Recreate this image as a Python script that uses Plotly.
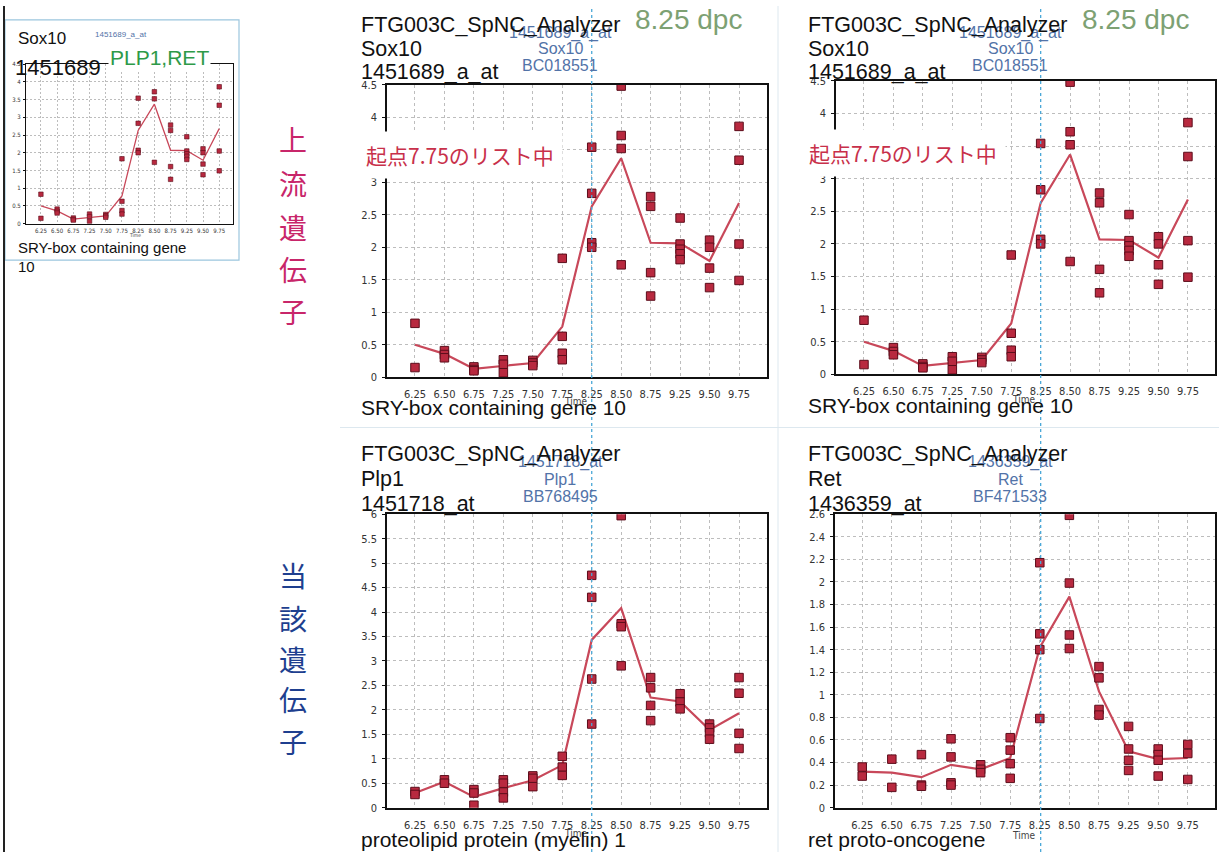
import plotly.graph_objects as go

W, H = 1219, 859


def X(px):
    return px / W


def Y(py):
    return 1 - py / H


# ---------------- data ----------------
cats = ["6.25", "6.50", "6.75", "7.25", "7.50", "7.75",
        "8.25", "8.50", "8.75", "9.25", "9.50", "9.75"]

sox10_points = [
    [0.83, 0.15],
    [0.41, 0.35, 0.30],
    [0.16, 0.12, 0.10],
    [0.27, 0.20, 0.07],
    [0.26, 0.22, 0.18],
    [1.83, 0.63, 0.37, 0.27],
    [3.54, 2.83, 2.07, 2.00],
    [4.48, 3.72, 3.52, 1.73],
    [2.78, 2.63, 1.61, 1.25],
    [2.45, 2.05, 1.97, 1.90, 1.81],
    [2.11, 2.00, 1.68, 1.38],
    [3.86, 3.34, 2.05, 1.49],
]
sox10_mean = [0.50, 0.36, 0.13, 0.18, 0.22, 0.78, 2.63, 3.37, 2.07, 2.06, 1.79, 2.68]

plp1_points = [
    [0.33, 0.27],
    [0.57, 0.50],
    [0.37, 0.30, 0.05],
    [0.57, 0.50, 0.32, 0.20],
    [0.65, 0.60, 0.43],
    [1.05, 0.83, 0.66],
    [4.75, 4.30, 2.63, 1.71],
    [5.97, 3.76, 3.70, 2.90],
    [2.66, 2.45, 2.09, 1.78],
    [2.33, 2.16, 2.02],
    [1.71, 1.63, 1.53, 1.40],
    [2.66, 2.34, 1.52, 1.21],
]
plp1_mean = [0.30, 0.53, 0.22, 0.40, 0.56, 0.87, 3.43, 4.08, 2.25, 2.17, 1.59, 1.93]

ret_points = [
    [0.36, 0.28],
    [0.43, 0.18],
    [0.47, 0.20, 0.19],
    [0.61, 0.45, 0.22, 0.20],
    [0.38, 0.34, 0.31],
    [0.62, 0.51, 0.39, 0.26],
    [2.17, 1.54, 1.40, 0.79],
    [2.59, 1.99, 1.53, 1.41],
    [1.25, 1.15, 0.87, 0.82],
    [0.72, 0.52, 0.42, 0.33],
    [0.52, 0.47, 0.42, 0.28],
    [0.56, 0.48, 0.25],
]
ret_mean = [0.32, 0.31, 0.27, 0.38, 0.34, 0.44, 1.42, 1.87, 1.03, 0.50, 0.43, 0.44]

# ---------------- styling ----------------
MARK = "#b8293f"
MARK_EDGE = "#5c0d1b"
LINE = "#c8485a"
GRID = "#bdbdbd"
SANS = "Liberation Sans, Arial, sans-serif"
NARROW = "Liberation Sans Narrow, DejaVu Sans Condensed, Liberation Sans, sans-serif"
CJK = "Noto Sans CJK JP, sans-serif"
BLUE_TXT = "#5273a8"

panels = [
    # inset
    dict(pts=sox10_points, mean=sox10_mean, x0=26, x1=233, yt=59, yb=221,
         ymax=4.5, dtick=0.5, xr=[-0.92, 11.85], small=True),
    # top-left
    dict(pts=sox10_points, mean=sox10_mean, x0=387, x1=767, yt=80, yb=377,
         ymax=4.5, dtick=0.5, xr=[-0.95, 11.95], small=False),
    # top-right
    dict(pts=sox10_points, mean=sox10_mean, x0=836, x1=1215, yt=76, yb=374,
         ymax=4.5, dtick=0.5, xr=[-0.95, 11.92], small=False),
    # bottom-left
    dict(pts=plp1_points, mean=plp1_mean, x0=387, x1=767, yt=516, yb=814,
         ymax=6.0, dtick=0.5, xr=[-0.95, 11.95], small=False),
    # bottom-right
    dict(pts=ret_points, mean=ret_mean, x0=835, x1=1215, yt=516, yb=814,
         ymax=2.6, dtick=0.2, xr=[-0.92, 11.92], small=False),
]

fig = go.Figure()
layout_axes = {}
for i, p in enumerate(panels, start=1):
    xa = "x" if i == 1 else f"x{i}"
    ya = "y" if i == 1 else f"y{i}"
    xs, ys = [], []
    for k, vals in enumerate(p["pts"]):
        for v in vals:
            xs.append(k)
            ys.append(v)
    small = p["small"]
    fig.add_trace(go.Scatter(
        x=list(range(len(cats))), y=p["mean"], mode="lines",
        line=dict(color=LINE, width=1.3 if small else 2.2),
        xaxis=xa, yaxis=ya, showlegend=False, hoverinfo="skip"))
    fig.add_trace(go.Scatter(
        x=xs, y=ys, mode="markers",
        marker=dict(symbol="square", size=4.5 if small else 8.5, color=MARK,
                    line=dict(color=MARK_EDGE, width=0.6 if small else 1)),
        xaxis=xa, yaxis=ya, showlegend=False, hoverinfo="skip"))

    tfs = 6 if small else 11
    gd = "2px,2px" if small else "3px,3px"
    layout_axes["xaxis" if i == 1 else f"xaxis{i}"] = dict(
        domain=[X(p["x0"]), X(p["x1"])], anchor=ya, range=p["xr"],
        tickvals=list(range(len(cats))), ticktext=cats,
        showline=True, mirror=True, linecolor="#111", linewidth=1 if small else 1.6,
        showgrid=True, gridcolor=GRID, griddash=gd, gridwidth=1,
        zeroline=False, ticks="", ticklabelstandoff=1 if small else 6,
        tickfont=dict(family=NARROW, size=tfs, color="#333"))
    layout_axes["yaxis" if i == 1 else f"yaxis{i}"] = dict(
        domain=[Y(p["yb"]), Y(p["yt"])], anchor=xa, range=[0, p["ymax"]],
        dtick=p["dtick"], tick0=0,
        showline=True, mirror=True, linecolor="#111", linewidth=1 if small else 1.6,
        showgrid=True, gridcolor=GRID, griddash=gd, gridwidth=1,
        zeroline=False, ticks="outside", ticklen=2 if small else 3, tickcolor="#111",
        ticklabelstandoff=1 if small else 3,
        tickfont=dict(family=NARROW, size=tfs, color="#333"))

annotations = []


def txt(s, px, py, size, color="#111", anchor="left", family=SANS, bg=None, pad=0):
    d = dict(text=s, x=X(px), y=Y(py), xref="paper", yref="paper",
             xanchor=anchor, yanchor="middle", showarrow=False,
             font=dict(family=family, size=size, color=color), borderpad=pad)
    if bg:
        d["bgcolor"] = bg
    annotations.append(d)


# "Time" labels (behind the gene-description text)
txt("Time", 575, 402, 10, "#444", "center", NARROW)
txt("Time", 1023, 400, 10, "#444", "center", NARROW)
txt("Time", 575, 840, 10, "#444", "center", NARROW)
txt("Time", 1023, 842, 10, "#444", "center", NARROW)
txt("Time", 135, 233, 5, "#444", "center", NARROW)

# blue probe labels (behind black titles)
blue_sets = [
    (560, [27, 43, 60], ["1451689_a_at", "Sox10", "BC018551"]),
    (1010, [27, 43, 60], ["1451689_a_at", "Sox10", "BC018551"]),
    (560, [463, 481, 498], ["1451718_at", "Plp1", "BB768495"]),
    (1010, [463, 481, 498], ["1436359_at", "Ret", "BF471533"]),
]
for cx, ys_, labels in blue_sets:
    for yy, lab in zip(ys_, labels):
        txt(lab, cx, yy, 16, BLUE_TXT, "center")

# panel titles
titles = [
    (360, [19, 44, 67], ["FTG003C_SpNC_Analyzer", "Sox10", "1451689_a_at"]),
    (807, [19, 44, 67], ["FTG003C_SpNC_Analyzer", "Sox10", "1451689_a_at"]),
    (360, [455, 480, 506], ["FTG003C_SpNC_Analyzer", "Plp1", "1451718_at"]),
    (807, [455, 480, 506], ["FTG003C_SpNC_Analyzer", "Ret", "1436359_at"]),
]
for lx, ys_, labels in titles:
    for yy, lab in zip(ys_, labels):
        txt(lab, lx, yy, 21.5, "#111", "left")

# gene descriptions
txt("SRY-box containing gene 10", 360, 408, 21)
txt("SRY-box containing gene 10", 807, 406, 21)
txt("proteolipid protein (myelin) 1", 360, 846, 21)
txt("ret proto-oncogene", 807, 846, 21)

# green time-point labels
txt("8.25 dpc", 634, 14, 28, "#7da173", "left")
txt("8.25 dpc", 1081, 14, 28, "#7da173", "left")

# red notes
txt("起点7.75のリスト中", 357, 151, 21, "#c8304a", "left", CJK, bg="white", pad=8)
txt("起点7.75のリスト中", 800, 149, 21, "#c8304a", "left", CJK, bg="white", pad=8)

# inset texts
txt("1451689_a_at", 94, 29, 8, BLUE_TXT, "left")
txt("Sox10", 17, 33, 17)
txt("1451689", 14, 62, 22)
txt("PLP1,RET", 108, 52, 21, "#2e9a48", "left", bg="white", pad=1)
txt("SRY-box containing gene", 17, 245, 15)
txt("10", 17, 264, 15)

# vertical category labels
for ch, yy in zip("上流遺伝子", [135, 180, 224, 267, 310]):
    txt(ch, 293, yy, 28, "#c8266a", "center", CJK)
for ch, yy in zip("当該遺伝子", [578, 621, 663, 704, 746]):
    txt(ch, 293, yy, 28, "#1e3f8f", "center", CJK)

shapes = [
    # left edge black rule
    dict(type="line", xref="paper", yref="paper", x0=X(4), x1=X(4), y0=0, y1=1,
         line=dict(color="#222", width=2), layer="above"),
    # inset frame
    dict(type="rect", xref="paper", yref="paper", x0=X(5), x1=X(239), y0=Y(258), y1=Y(14),
         line=dict(color="#9cc6de", width=1.2), layer="below"),
    # faint panel separators
    dict(type="line", xref="paper", yref="paper", x0=X(778), x1=X(778), y0=Y(859), y1=Y(0),
         line=dict(color="#dde8ef", width=1), layer="below"),
    dict(type="line", xref="paper", yref="paper", x0=X(340), x1=X(1219), y0=Y(428), y1=Y(428),
         line=dict(color="#dde8ef", width=1), layer="below"),
    # 8.25 dpc markers
    dict(type="line", xref="x2", yref="paper", x0=6, x1=6, y0=0, y1=1,
         line=dict(color="#4aa8d8", width=1.3, dash="dot"), layer="above"),
    dict(type="line", xref="x3", yref="paper", x0=6, x1=6, y0=0, y1=1,
         line=dict(color="#4aa8d8", width=1.3, dash="dot"), layer="above"),
]

fig.update_layout(
    width=W, height=H, autosize=False,
    margin=dict(l=0, r=0, t=0, b=0),
    paper_bgcolor="white", plot_bgcolor="white",
    annotations=annotations, shapes=shapes, showlegend=False,
    **layout_axes)

fig.write_html("out.html", config={"displayModeBar": False},
               post_script="document.body.style.margin='0';")
